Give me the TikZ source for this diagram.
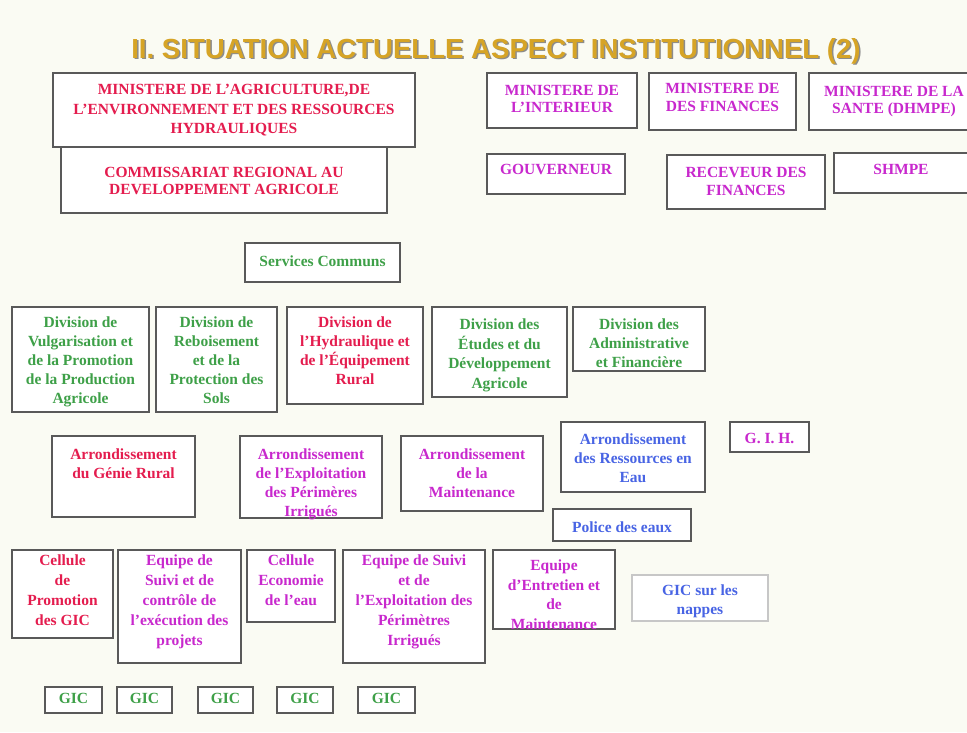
\documentclass[tikz,border=0pt]{standalone}
\usepackage{fontspec}
\setmainfont{Liberation Serif}
\newfontfamily\titrefont{Liberation Sans}
\definecolor{fond}{RGB}{250,251,243}
\definecolor{or}{RGB}{214,164,38}
\definecolor{rouge}{RGB}{228,28,78}
\definecolor{mauve}{RGB}{200,40,205}
\definecolor{vert}{RGB}{62,160,72}
\definecolor{bleu}{RGB}{72,100,228}
\begin{document}
\begin{tikzpicture}[x=1pt,y=-1pt,
	cadre/.style={draw=black!65,line width=1.5pt,fill=white},
	cadreclair/.style={draw=black!22,line width=1.5pt,fill=white},
	texte/.style={anchor=north,inner sep=0pt,align=center,font=\fontsize{15.5}{19}\selectfont\bfseries},
	majus/.style={texte,font=\fontsize{15.5}{18}\selectfont\bfseries},
	txtrouge/.style={texte,text=rouge},
	txtmauve/.style={texte,text=mauve},
	txtvert/.style={texte,text=vert},
	txtbleu/.style={texte,text=bleu}]
%					Fond et cadre de la page :
					\fill[fond] (0,0) rectangle (967,732);
					\useasboundingbox (0,0) rectangle (967,732);
%					Titre :
					\node[anchor=base,inner sep=0pt,text=black!45,font=\titrefont\fontsize{27.6}{30}\selectfont\bfseries] (titreombre) at (497.5,59.5) {II. SITUATION ACTUELLE ASPECT INSTITUTIONNEL (2)};
					\node[anchor=base,inner sep=0pt,text=or,font=\titrefont\fontsize{27.6}{30}\selectfont\bfseries] (titre) at (496,58) {II. SITUATION ACTUELLE ASPECT INSTITUTIONNEL (2)};
%					Ministères :
					\draw[cadre] (53,73) rectangle (415,147);
					\node[majus,txtrouge,font=\fontsize{15.5}{19.5}\selectfont\bfseries] (agri) at (234,84) {MINISTERE DE L’AGRICULTURE,DE\\L’ENVIRONNEMENT ET DES RESSOURCES\\HYDRAULIQUES};
					\draw[cadre] (61,147) rectangle (387,213);
					\node[txtrouge,font=\fontsize{15.5}{17}\selectfont\bfseries] (crda) at (224,167) {COMMISSARIAT REGIONAL AU\\DEVELOPPEMENT AGRICOLE};
					\draw[cadre] (487,73) rectangle (637,128);
					\node[txtmauve,font=\fontsize{15.5}{17}\selectfont\bfseries] (interieur) at (562,85) {MINISTERE DE\\L’INTERIEUR};
					\draw[cadre] (649,73) rectangle (796,130);
					\node[txtmauve,font=\fontsize{15.5}{18}\selectfont\bfseries] (finances) at (722.5,83) {MINISTERE DE\\DES FINANCES};
					\draw[cadre] (809,73) rectangle (985,130);
					\node[txtmauve,font=\fontsize{15.5}{17}\selectfont\bfseries] (sante) at (894,86) {MINISTERE DE LA\\SANTE (DHMPE)};
%					Services régionaux :
					\draw[cadre] (487,154) rectangle (625,194);
					\node[txtmauve] (gouverneur) at (556,164) {GOUVERNEUR};
					\draw[cadre] (667,155) rectangle (825,209);
					\node[txtmauve,font=\fontsize{15.5}{18}\selectfont\bfseries] (receveur) at (746,167) {RECEVEUR DES\\FINANCES};
					\draw[cadre] (834,153) rectangle (990,193);
					\node[txtmauve] (shmpe) at (901,164) {SHMPE};
%					Services communs et divisions :
					\draw[cadre] (245,243) rectangle (400,282);
					\node[txtvert] (services) at (322.5,256) {Services Communs};
					\draw[cadre] (12,307) rectangle (149,412);
					\node[txtvert] (vulgar) at (80.5,317) {Division de\\Vulgarisation et\\de la Promotion\\de la Production\\Agricole};
					\draw[cadre] (156,307) rectangle (277,412);
					\node[txtvert] (rebois) at (216.5,317) {Division de\\Reboisement\\et de la\\Protection des\\Sols};
					\draw[cadre] (287,307) rectangle (423,404);
					\node[txtrouge] (hydrau) at (355,317) {Division de\\l’Hydraulique et\\de l’Équipement\\Rural};
					\draw[cadre] (432,307) rectangle (567,397);
					\node[txtvert,font=\fontsize{15.5}{19.5}\selectfont\bfseries] (etudes) at (499.5,319) {Division des\\Études et du\\Développement\\Agricole};
					\draw[cadre] (573,307) rectangle (705,371);
					\node[txtvert] (admin) at (639,319) {Division des\\Administrative\\et Financière};
%					Arrondissements :
					\draw[cadre] (52,436) rectangle (195,517);
					\node[txtrouge] (genie) at (123.5,449) {Arrondissement\\du Génie Rural};
					\draw[cadre] (240,436) rectangle (382,518);
					\node[txtmauve] (exploit) at (311,449) {Arrondissement\\de l’Exploitation\\des Périmères\\Irrigués};
					\draw[cadre] (401,436) rectangle (543,511);
					\node[txtmauve] (mainten) at (472,449) {Arrondissement\\de la\\Maintenance};
					\draw[cadre] (561,422) rectangle (705,492);
					\node[txtbleu] (ressources) at (633,434) {Arrondissement\\des Ressources en\\Eau};
					\draw[cadre] (730,422) rectangle (809,452);
					\node[txtmauve] (gih) at (769.5,433) {G. I. H.};
					\draw[cadre] (553,509) rectangle (691,541);
					\node[txtbleu] (police) at (622,522) {Police des eaux};
%					Cellules et équipes :
					\draw[cadre] (12,550) rectangle (113,638);
					\node[txtrouge,font=\fontsize{15.5}{20}\selectfont\bfseries] (cellgic) at (62.5,555) {Cellule\\de\\Promotion\\des GIC};
					\draw[cadre] (118,550) rectangle (241,663);
					\node[txtmauve,font=\fontsize{15.5}{20}\selectfont\bfseries] (eqctrl) at (179.5,555) {Equipe de\\Suivi et de\\contrôle de\\l’exécution des\\projets};
					\draw[cadre] (247,550) rectangle (335,622);
					\node[txtmauve,font=\fontsize{15.5}{20}\selectfont\bfseries] (celleau) at (291,555) {Cellule\\Economie\\de l’eau};
					\draw[cadre] (343,550) rectangle (485,663);
					\node[txtmauve,font=\fontsize{15.5}{20}\selectfont\bfseries] (eqexpl) at (414,555) {Equipe de Suivi\\et de\\l’Exploitation des\\Périmètres\\Irrigués};
					\draw[cadre] (493,550) rectangle (615,629);
					\node[txtmauve,font=\fontsize{15.5}{19.5}\selectfont\bfseries] (eqentr) at (554,560) {Equipe\\d’Entretien et\\de\\Maintenance};
					\draw[cadreclair] (632,575) rectangle (768,621);
					\node[txtbleu] (nappes) at (700,585) {GIC sur les\\nappes};
%					Groupements (GIC) :
					\foreach \i/\xa/\xb in {1/45/102,2/117/172,3/198/253,4/277/333,5/358/415}{
						\draw[cadre] (\xa,687) rectangle (\xb,713);
						\node[txtvert] (gic\i) at ({(\xa+\xb)/2},693) {GIC};
					}
\end{tikzpicture}
\end{document}
